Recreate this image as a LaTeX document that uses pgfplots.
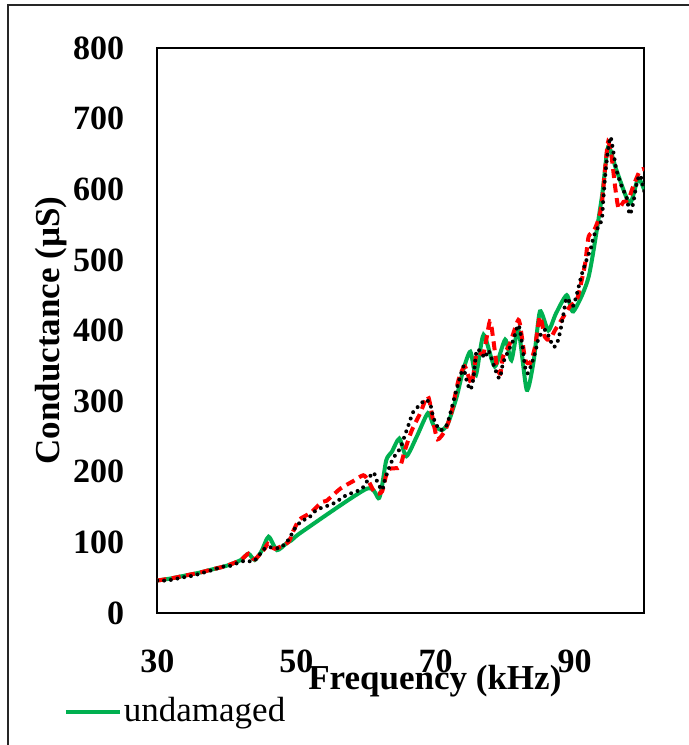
\documentclass[border=0pt]{standalone}
\usepackage{fontspec}
\setmainfont{Liberation Serif}
\usepackage{pgfplots}
\pgfplotsset{compat=1.18}
\definecolor{exgreen}{RGB}{0,176,80}

\pgfplotstableread{
x y
30 46
32 49
34 53
36 57
38 62
40 67
42 75
43.1 84
44 75
45 88
46 108
47.2 89
48.6 99
49.3 103
50.8 115
60.1 176
61.9 163
62.9 216
63.7 228
64.8 247
65.8 222
67.3 250
68.9 283
69.7 266
70.9 259
71.8 269
73.0 305
74.0 345
75.0 370
75.8 337
76.9 394
78.5 349
80.0 387
80.9 358
81.9 401
83.1 316
84.1 357
85.0 427
86.2 400
87.3 424
88.85 450
89.8 427
92.0 476
93.9 589
94.8 660
96.0 627
97.9 580
99.1 615
100 599
}\undamaged

\pgfplotstableread{
x y
30 46
32 49
34 53
36 57
38 62
40 67
42 75
43.1 84
44 76
45.5 92
45.9 98
46.9 91
48.8 100
49.5 115
50.3 131
51.0 136
52.2 143
53.6 157
54.35 159
56.3 176
58.2 187
59.6 195
60.3 188
61.3 170
62.3 172
63.1 202
64.2 205
64.9 207
65.6 231
66.6 259
67.8 283
68.9 307
69.7 269
70.3 246
71.4 259
72.3 285
73.3 330
74.2 349
75.2 325
75.9 368
76.9 368
77.8 413
78.3 387
78.8 349
79.3 339
79.7 363
80.7 382
81.9 415
82.4 391
82.9 358
83.6 354
84.3 377
85.0 420
85.7 391
86.4 387
87.2 401
88.1 415
89.3 434
90.3 443
91.0 471
91.5 495
92.0 533
92.7 540
93.4 557
93.9 580
94.35 627
94.8 667
95.3 646
95.8 604
96.3 573
97.0 582
97.7 585
98.4 604
99.4 627
100 628
}\damagedA

\pgfplotstableread{
x y
30 46
31.4 46
32.5 48
33.7 50.5
34.9 52.4
35.9 55
37.1 58.5
38.3 62
39.3 65.6
40.4 66.5
41.6 71
42.6 74
43.8 73
44.5 80
45.5 92
46.4 93
47.6 92
48.8 103
49.8 120
50.8 131
51.7 134
52.9 146
55.3 155
57.2 167
59.4 176
61.0 199
61.6 186
62.3 174
62.7 188
63.1 200
63.9 219
64.9 233
65.6 252
66.1 266
66.8 285
67.8 295
68.5 302
69.2 297
69.7 276
70.6 259
71.6 266
72.5 297
73.0 316
74.0 349
74.3 335
74.95 316
75.4 330
75.9 372
76.6 368
77.1 361
77.6 372
78.5 347
79.2 332
79.7 354
80.5 372
81.2 387
81.9 408
82.4 384
82.85 349
83.2 339
83.6 347
84.3 368
84.8 389
85.7 401
86.4 389
86.9 377
87.4 380
87.9 398
88.4 424
88.85 446
89.8 435
91.0 479
91.7 500
92.4 519
92.7 533
93.4 547
93.9 557
94.1 585
94.5 632
95.1 674
95.5 656
96.0 627
96.75 604
97.5 587
97.9 564
98.4 580
98.9 608
99.4 620
100 597
}\damagedB

\begin{document}
\fontsize{16}{19}\selectfont
\begin{tikzpicture}
\useasboundingbox (0,0) rectangle (344.5pt,372.5pt);
\draw[line width=0.8pt, black!85] (4pt,-20pt) -- (4pt,370.1pt) -- (360pt,370.1pt);
\begin{axis}[
  at={(78.65pt,66pt)}, anchor=south west,
  scale only axis, width=243.5pt, height=282.5pt,
  xmin=30, xmax=100, ymin=0, ymax=800,
  xtick={30,50,70,90}, ytick={0,100,...,800},
  major tick length=0pt,
  axis line style={line width=1pt},
  /pgf/number format/assume math mode=true,
  tick label style={font=\fontsize{17}{20}\selectfont\bfseries},
  xticklabel style={yshift=-13pt},
  yticklabel style={xshift=-11pt},
  xlabel={Frequency (kHz)},
  ylabel={Conductance (µS)},
  label style={font=\fontsize{17.5}{20}\selectfont\bfseries},
  xlabel style={at={(axis description cs:0.570,-0.136)}, anchor=base},
  ylabel style={at={(axis description cs:-0.201,0.5)}, anchor=base},
  legend style={at={(axis description cs:-0.1926,-0.1747)}, anchor=west,
    draw=none, fill=none, inner sep=0pt,
    font=\fontsize{17.5}{20}\selectfont,
    nodes={inner xsep=1.2pt, inner ysep=0pt}},
  legend image code/.code={\draw[#1, line width=2pt] (0pt,0pt) -- (26.8pt,0pt);},
]
\addplot[exgreen, line width=2pt, smooth, tension=0.4] table[x=x,y=y] {\undamaged};
\addlegendentry{undamaged}
\addplot[red, line width=2pt, smooth, tension=0.4, dash pattern=on 4.5pt off 2.8pt, forget plot] table[x=x,y=y] {\damagedA};
\addplot[black, line width=2pt, smooth, tension=0.4, line cap=round, dash pattern=on 0pt off 3.4pt, forget plot] table[x=x,y=y] {\damagedB};
\end{axis}
\end{tikzpicture}
\end{document}
